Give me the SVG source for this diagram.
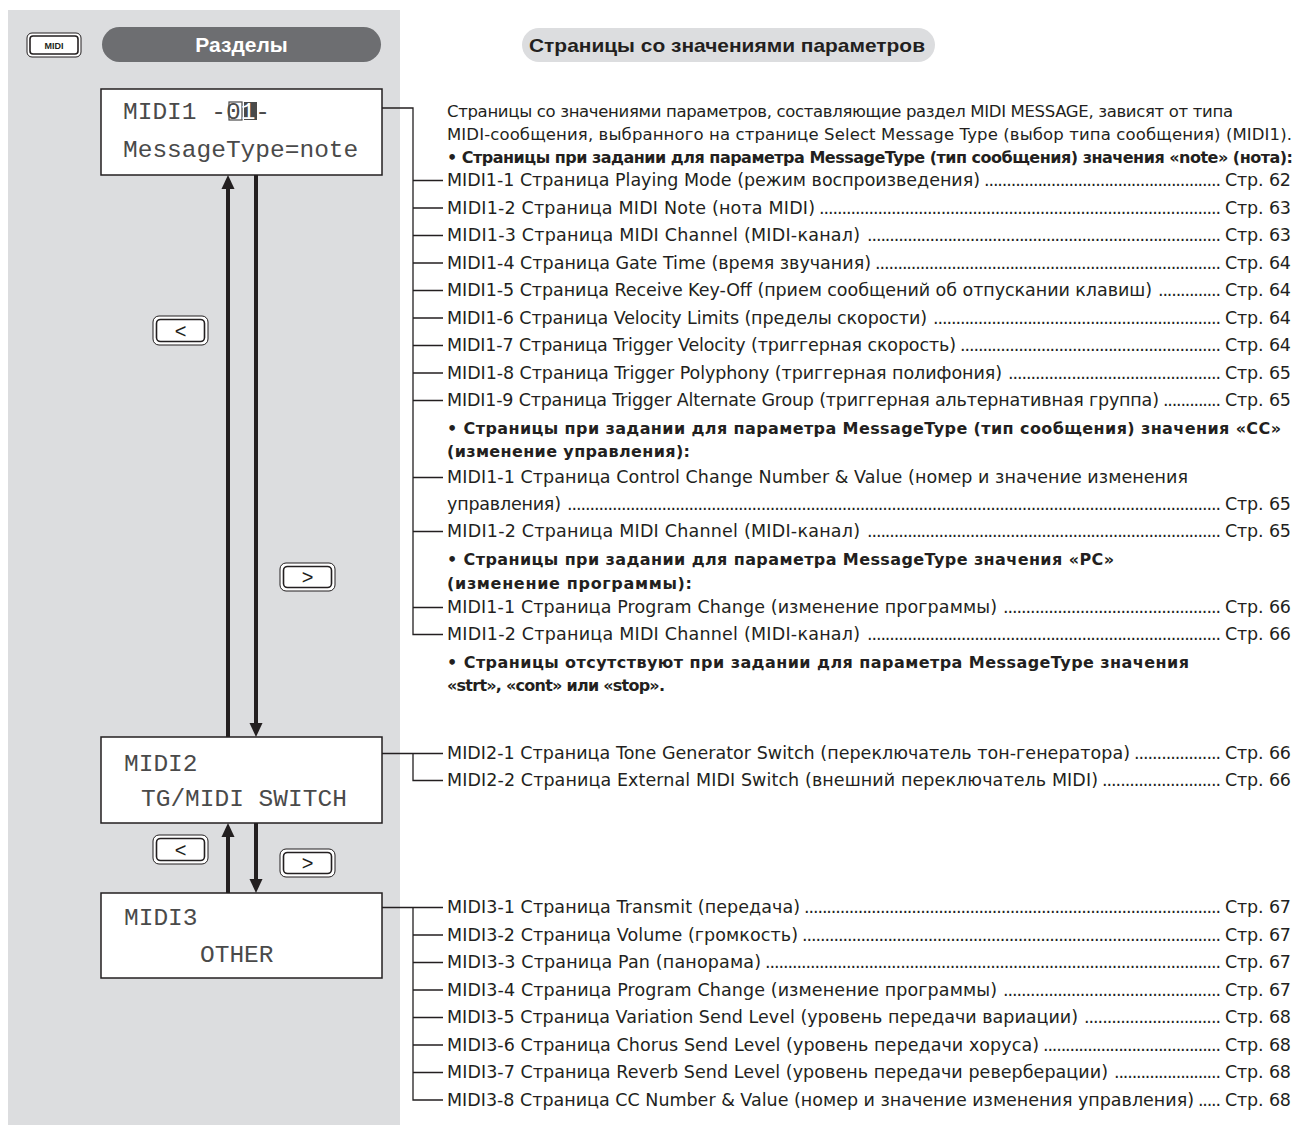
<svg xmlns="http://www.w3.org/2000/svg" width="1295" height="1135" viewBox="0 0 1295 1135">
<defs>
<style>
.t{font-family:"DejaVu Sans","Liberation Sans",sans-serif;font-size:17.5px;fill:#231f20}
.ti{font-family:"DejaVu Sans","Liberation Sans",sans-serif;font-size:16.5px;fill:#231f20}
.b{font-family:"DejaVu Sans","Liberation Sans",sans-serif;font-size:16px;font-weight:bold;fill:#231f20}
.lcd{font-family:"Liberation Mono","DejaVu Sans Mono",monospace;font-size:24.5px;fill:#4a4a4a}
.ln{stroke:#231f20;stroke-width:1.3;fill:none}
.lcdbox{fill:#fff;stroke:#231f20;stroke-width:1.5}
.arr{stroke:#231f20;stroke-width:4;fill:none}
.bo{fill:#fff;stroke:#231f20;stroke-width:1}
.bi{fill:#fff;stroke:#231f20;stroke-width:1.6}
.bt{font-family:"Liberation Sans",sans-serif;font-size:20px;fill:#231f20;text-anchor:middle}
</style>
<marker id="ah" markerUnits="userSpaceOnUse" viewBox="0 0 14 14" markerWidth="14" markerHeight="14" refX="1" refY="7" orient="auto"><path d="M0,0.5 L14,7 L0,13.5 z" fill="#231f20"/></marker>
</defs>
<rect x="0" y="0" width="1295" height="1135" fill="#fff"/>
<rect id="panel" x="8" y="10" width="392" height="1115" fill="#dcdddf"/>

<g id="btn-midi">
<rect class="bo" x="27" y="33" width="54" height="24" rx="5"/>
<rect class="bi" x="30" y="36" width="48" height="18" rx="3"/>
<text x="54" y="49" text-anchor="middle" style="font-family:'Liberation Sans',sans-serif;font-size:9px;font-weight:bold;fill:#231f20">MIDI</text>
</g>
<g id="hdr-sections">
<rect x="102" y="27" width="279" height="35" rx="17.5" fill="#6d6e71"/>
<text x="241.5" y="52" text-anchor="middle" style="font-family:'Liberation Sans',sans-serif;font-size:21px;font-weight:bold;fill:#fff">Разделы</text>
</g>
<g id="hdr-pages">
<rect x="522" y="28" width="413" height="34" rx="17" fill="#dcdddf"/>
<text x="529" y="52" textLength="396" lengthAdjust="spacingAndGlyphs" style="font-family:'Liberation Sans',sans-serif;font-size:19px;font-weight:bold;fill:#231f20">Страницы со значениями параметров</text>
</g>

<g id="lcd-midi1">
<rect class="lcdbox" x="101" y="89" width="281" height="86"/>
<rect x="229" y="102" width="13" height="18" fill="none" stroke="#4a4a4a" stroke-width="1.2"/>
<rect x="244" y="102" width="13" height="18" fill="#4a4a4a"/>
<text class="lcd" x="123" y="119">MIDI1 -0<tspan fill="#fff">1</tspan>-</text>
<text class="lcd" x="123" y="157">MessageType=note</text>
</g>
<g id="lcd-midi2">
<rect class="lcdbox" x="101" y="737" width="281" height="86"/>
<text class="lcd" x="124" y="771">MIDI2</text>
<text class="lcd" x="141" y="806">TG/MIDI SWITCH</text>
</g>
<g id="lcd-midi3">
<rect class="lcdbox" x="101" y="893" width="281" height="85"/>
<text class="lcd" x="124" y="925">MIDI3</text>
<text class="lcd" x="200" y="962">OTHER</text>
</g>

<g id="btn-prev-1"><rect class="bo" x="153" y="316" width="55" height="29" rx="6"/><rect class="bi" x="156.5" y="319.5" width="48" height="22" rx="4"/><text class="bt" x="180.5" y="337.5">&lt;</text></g>
<g id="btn-next-1"><rect class="bo" x="280" y="563" width="55" height="28" rx="6"/><rect class="bi" x="283.5" y="566.5" width="48" height="21" rx="4"/><text class="bt" x="307.5" y="584">&gt;</text></g>
<g id="btn-prev-2"><rect class="bo" x="153" y="835" width="55" height="29" rx="6"/><rect class="bi" x="156.5" y="838.5" width="48" height="22" rx="4"/><text class="bt" x="180.5" y="856.5">&lt;</text></g>
<g id="btn-next-2"><rect class="bo" x="280" y="849" width="55" height="28" rx="6"/><rect class="bi" x="283.5" y="852.5" width="48" height="21" rx="4"/><text class="bt" x="307.5" y="870">&gt;</text></g>

<g id="connectors">
<path class="arr" d="M228,737 V188" marker-end="url(#ah)"/>
<path class="arr" d="M256,175 V724" marker-end="url(#ah)"/>
<path class="arr" d="M228,893 V836" marker-end="url(#ah)"/>
<path class="arr" d="M256,823 V880" marker-end="url(#ah)"/>
<path class="ln" d="M382,108 H413 V634.5 H443 M413,180.5 H443 M413,208 H443 M413,235.5 H443 M413,263 H443 M413,290.5 H443 M413,318 H443 M413,345.5 H443 M413,373 H443 M413,400.5 H443 M413,477.5 H443 M413,531.5 H443 M413,607.5 H443"/>
<path class="ln" d="M382,753.5 H443 M413,753.5 V780.5 H443"/>
<path class="ln" d="M382,907.5 H443 M413,907.5 V1100 H443 M413,935 H443 M413,962.5 H443 M413,990 H443 M413,1017.5 H443 M413,1045 H443 M413,1072.5 H443"/>
</g>

<g id="intro">
<text class="ti" x="447" y="117" textLength="786" lengthAdjust="spacing">Страницы со значениями параметров, составляющие раздел MIDI MESSAGE, зависят от типа</text>
<text class="ti" x="447" y="140" textLength="845" lengthAdjust="spacing">MIDI-сообщения, выбранного на странице Select Message Type (выбор типа сообщения) (MIDI1).</text>
</g>
<g id="head-note"><text class="b" x="447" y="163" textLength="846" lengthAdjust="spacing">• Страницы при задании для параметра MessageType (тип сообщения) значения «note» (нота):</text></g>

<g id="midi1-1"><text class="t" x="447" y="186" textLength="533" lengthAdjust="spacing">MIDI1-1 Страница Playing Mode (режим воспроизведения)</text><text class="t" x="984" y="186" textLength="237" lengthAdjust="spacing">.....................................................</text><text class="t" x="1225" y="186" textLength="66" lengthAdjust="spacing">Стр. 62</text></g>
<g id="midi1-2"><text class="t" x="447" y="213.5" textLength="368" lengthAdjust="spacing">MIDI1-2 Страница MIDI Note (нота MIDI)</text><text class="t" x="819" y="213.5" textLength="402" lengthAdjust="spacing">.........................................................................................</text><text class="t" x="1225" y="213.5" textLength="66" lengthAdjust="spacing">Стр. 63</text></g>
<g id="midi1-3"><text class="t" x="447" y="241" textLength="413" lengthAdjust="spacing">MIDI1-3 Страница MIDI Channel (MIDI-канал)</text><text class="t" x="867" y="241" textLength="354" lengthAdjust="spacing">...............................................................................</text><text class="t" x="1225" y="241" textLength="66" lengthAdjust="spacing">Стр. 63</text></g>
<g id="midi1-4"><text class="t" x="447" y="268.5" textLength="424" lengthAdjust="spacing">MIDI1-4 Страница Gate Time (время звучания)</text><text class="t" x="875" y="268.5" textLength="346" lengthAdjust="spacing">.............................................................................</text><text class="t" x="1225" y="268.5" textLength="66" lengthAdjust="spacing">Стр. 64</text></g>
<g id="midi1-5"><text class="t" x="447" y="296" textLength="705" lengthAdjust="spacing">MIDI1-5 Страница Receive Key-Off (прием сообщений об отпускании клавиш)</text><text class="t" x="1158" y="296" textLength="63" lengthAdjust="spacing">..............</text><text class="t" x="1225" y="296" textLength="66" lengthAdjust="spacing">Стр. 64</text></g>
<g id="midi1-6"><text class="t" x="447" y="323.5" textLength="480" lengthAdjust="spacing">MIDI1-6 Страница Velocity Limits (пределы скорости)</text><text class="t" x="933" y="323.5" textLength="288" lengthAdjust="spacing">................................................................</text><text class="t" x="1225" y="323.5" textLength="66" lengthAdjust="spacing">Стр. 64</text></g>
<g id="midi1-7"><text class="t" x="447" y="351" textLength="509" lengthAdjust="spacing">MIDI1-7 Страница Trigger Velocity (триггерная скорость)</text><text class="t" x="960" y="351" textLength="261" lengthAdjust="spacing">..........................................................</text><text class="t" x="1225" y="351" textLength="66" lengthAdjust="spacing">Стр. 64</text></g>
<g id="midi1-8"><text class="t" x="447" y="378.5" textLength="555" lengthAdjust="spacing">MIDI1-8 Страница Trigger Polyphony (триггерная полифония)</text><text class="t" x="1008" y="378.5" textLength="213" lengthAdjust="spacing">...............................................</text><text class="t" x="1225" y="378.5" textLength="66" lengthAdjust="spacing">Стр. 65</text></g>
<g id="midi1-9"><text class="t" x="447" y="406" textLength="712" lengthAdjust="spacing">MIDI1-9 Страница Trigger Alternate Group (триггерная альтернативная группа)</text><text class="t" x="1163" y="406" textLength="58" lengthAdjust="spacing">.............</text><text class="t" x="1225" y="406" textLength="66" lengthAdjust="spacing">Стр. 65</text></g>

<g id="head-cc">
<text class="b" x="447" y="434" textLength="834" lengthAdjust="spacing">• Страницы при задании для параметра MessageType (тип сообщения) значения «CC»</text>
<text class="b" x="447" y="457" textLength="243" lengthAdjust="spacing">(изменение управления):</text>
</g>
<g id="cc-1"><text class="t" x="447" y="483" textLength="741" lengthAdjust="spacing">MIDI1-1 Страница Control Change Number &amp; Value (номер и значение изменения</text><text class="t" x="447" y="510" textLength="114" lengthAdjust="spacing">управления)</text><text class="t" x="567" y="510" textLength="654" lengthAdjust="spacing">.................................................................................................................................................</text><text class="t" x="1225" y="510" textLength="66" lengthAdjust="spacing">Стр. 65</text></g>
<g id="cc-2"><text class="t" x="447" y="537" textLength="413" lengthAdjust="spacing">MIDI1-2 Страница MIDI Channel (MIDI-канал)</text><text class="t" x="867" y="537" textLength="354" lengthAdjust="spacing">...............................................................................</text><text class="t" x="1225" y="537" textLength="66" lengthAdjust="spacing">Стр. 65</text></g>

<g id="head-pc">
<text class="b" x="447" y="565" textLength="667" lengthAdjust="spacing">• Страницы при задании для параметра MessageType значения «PC»</text>
<text class="b" x="447" y="589" textLength="245" lengthAdjust="spacing">(изменение программы):</text>
</g>
<g id="pc-1"><text class="t" x="447" y="613" textLength="550" lengthAdjust="spacing">MIDI1-1 Страница Program Change (изменение программы)</text><text class="t" x="1003" y="613" textLength="218" lengthAdjust="spacing">................................................</text><text class="t" x="1225" y="613" textLength="66" lengthAdjust="spacing">Стр. 66</text></g>
<g id="pc-2"><text class="t" x="447" y="640" textLength="413" lengthAdjust="spacing">MIDI1-2 Страница MIDI Channel (MIDI-канал)</text><text class="t" x="867" y="640" textLength="354" lengthAdjust="spacing">...............................................................................</text><text class="t" x="1225" y="640" textLength="66" lengthAdjust="spacing">Стр. 66</text></g>

<g id="head-none">
<text class="b" x="447" y="668" textLength="742" lengthAdjust="spacing">• Страницы отсутствуют при задании для параметра MessageType значения</text>
<text class="b" x="447" y="691" textLength="218" lengthAdjust="spacing">«strt», «cont» или «stop».</text>
</g>

<g id="midi2-1"><text class="t" x="447" y="759" textLength="683" lengthAdjust="spacing">MIDI2-1 Страница Tone Generator Switch (переключатель тон-генератора)</text><text class="t" x="1134" y="759" textLength="87" lengthAdjust="spacing">...................</text><text class="t" x="1225" y="759" textLength="66" lengthAdjust="spacing">Стр. 66</text></g>
<g id="midi2-2"><text class="t" x="447" y="786" textLength="651" lengthAdjust="spacing">MIDI2-2 Страница External MIDI Switch (внешний переключатель MIDI)</text><text class="t" x="1102" y="786" textLength="119" lengthAdjust="spacing">..........................</text><text class="t" x="1225" y="786" textLength="66" lengthAdjust="spacing">Стр. 66</text></g>

<g id="midi3-1"><text class="t" x="447" y="913" textLength="353" lengthAdjust="spacing">MIDI3-1 Страница Transmit (передача)</text><text class="t" x="804" y="913" textLength="417" lengthAdjust="spacing">.............................................................................................</text><text class="t" x="1225" y="913" textLength="66" lengthAdjust="spacing">Стр. 67</text></g>
<g id="midi3-2"><text class="t" x="447" y="940.5" textLength="351" lengthAdjust="spacing">MIDI3-2 Страница Volume (громкость)</text><text class="t" x="802" y="940.5" textLength="419" lengthAdjust="spacing">.............................................................................................</text><text class="t" x="1225" y="940.5" textLength="66" lengthAdjust="spacing">Стр. 67</text></g>
<g id="midi3-3"><text class="t" x="447" y="968" textLength="314" lengthAdjust="spacing">MIDI3-3 Страница Pan (панорама)</text><text class="t" x="765" y="968" textLength="456" lengthAdjust="spacing">.....................................................................................................</text><text class="t" x="1225" y="968" textLength="66" lengthAdjust="spacing">Стр. 67</text></g>
<g id="midi3-4"><text class="t" x="447" y="995.5" textLength="550" lengthAdjust="spacing">MIDI3-4 Страница Program Change (изменение программы)</text><text class="t" x="1003" y="995.5" textLength="218" lengthAdjust="spacing">................................................</text><text class="t" x="1225" y="995.5" textLength="66" lengthAdjust="spacing">Стр. 67</text></g>
<g id="midi3-5"><text class="t" x="447" y="1023" textLength="631" lengthAdjust="spacing">MIDI3-5 Страница Variation Send Level (уровень передачи вариации)</text><text class="t" x="1084" y="1023" textLength="137" lengthAdjust="spacing">..............................</text><text class="t" x="1225" y="1023" textLength="66" lengthAdjust="spacing">Стр. 68</text></g>
<g id="midi3-6"><text class="t" x="447" y="1050.5" textLength="592" lengthAdjust="spacing">MIDI3-6 Страница Chorus Send Level (уровень передачи хоруса)</text><text class="t" x="1043" y="1050.5" textLength="178" lengthAdjust="spacing">........................................</text><text class="t" x="1225" y="1050.5" textLength="66" lengthAdjust="spacing">Стр. 68</text></g>
<g id="midi3-7"><text class="t" x="447" y="1078" textLength="661" lengthAdjust="spacing">MIDI3-7 Страница Reverb Send Level (уровень передачи реверберации)</text><text class="t" x="1114" y="1078" textLength="107" lengthAdjust="spacing">........................</text><text class="t" x="1225" y="1078" textLength="66" lengthAdjust="spacing">Стр. 68</text></g>
<g id="midi3-8"><text class="t" x="447" y="1105.5" textLength="747" lengthAdjust="spacing">MIDI3-8 Страница CC Number &amp; Value (номер и значение изменения управления)</text><text class="t" x="1198" y="1105.5" textLength="23" lengthAdjust="spacing">.....</text><text class="t" x="1225" y="1105.5" textLength="66" lengthAdjust="spacing">Стр. 68</text></g>
</svg>
